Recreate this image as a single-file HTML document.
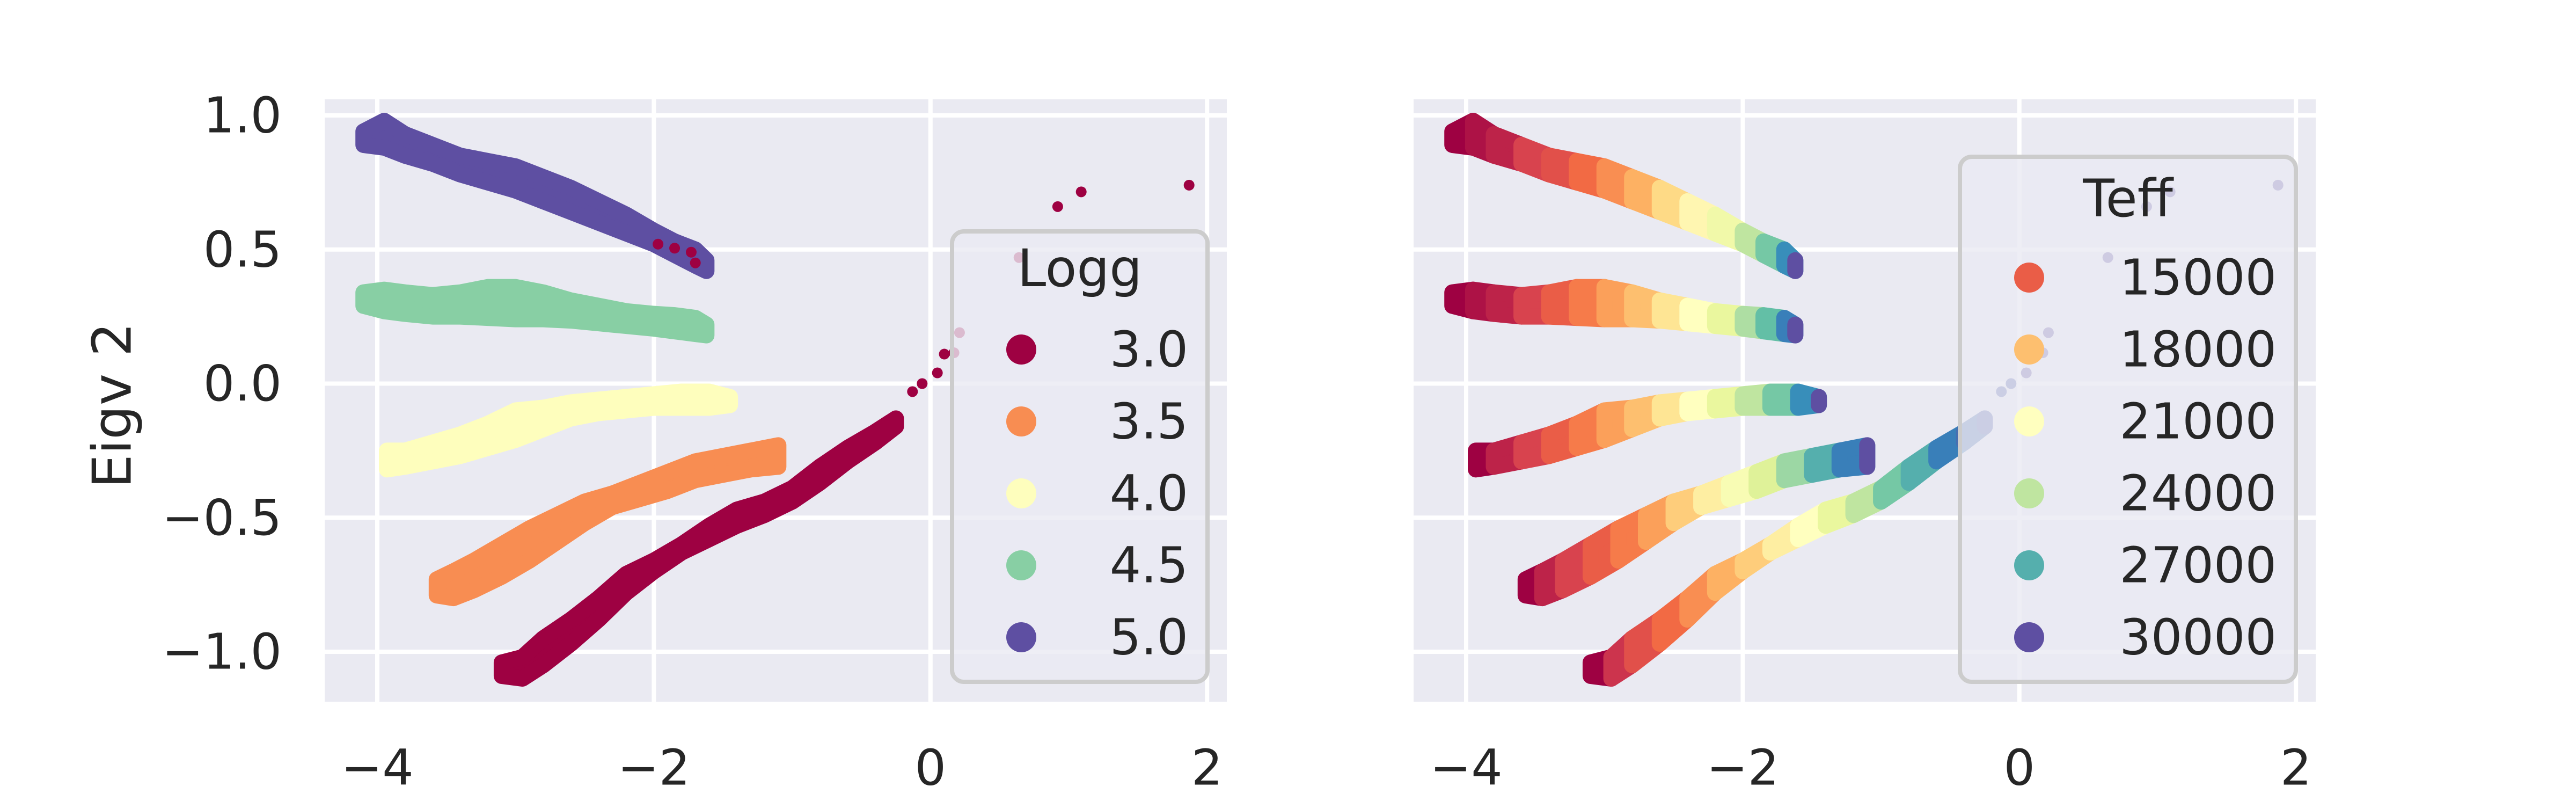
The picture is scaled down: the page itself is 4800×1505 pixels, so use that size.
<!DOCTYPE html>
<html><head><meta charset="utf-8"><style>
html,body{margin:0;padding:0;background:#fff;}
svg text{font-family:"DejaVu Sans","Liberation Sans",sans-serif;fill:#262626;}
</style></head><body>
<svg id="fig" width="4800" height="1500" viewBox="0 0 4800 1500" xmlns="http://www.w3.org/2000/svg">
<g id="axL"></g>
<g id="axR"></g>
<text x="209" y="755" font-size="100" text-anchor="middle" dominant-baseline="central" transform="rotate(-90 209 755)">Eigv 2</text>
</svg>
<script>
// ---- data: columns of points per logg band (x, y-low, y-high, teff) ----
const loggValues = [5.0, 4.5, 4.0, 3.5, 3.0];
const b50x  = [-4.1,-3.95,-3.8,-3.6,-3.4,-3.2,-3.0,-2.8,-2.6,-2.4,-2.2,-2.0,-1.85,-1.7,-1.62];
const b50lo = [0.89,0.88,0.85,0.82,0.78,0.75,0.72,0.68,0.64,0.60,0.56,0.52,0.48,0.44,0.42];
const b50hi = [0.94,0.98,0.93,0.89,0.85,0.83,0.81,0.77,0.73,0.68,0.63,0.57,0.53,0.50,0.46];
const b50t  = [12000,12500,13000,14000,14500,15500,16500,17500,19000,20500,22000,24000,26000,28000,30000];
const b45x  = [-4.1,-3.95,-3.8,-3.6,-3.4,-3.2,-3.0,-2.8,-2.6,-2.4,-2.2,-2.0,-1.85,-1.7,-1.62];
const b45lo = [0.29,0.27,0.26,0.25,0.25,0.245,0.24,0.24,0.235,0.225,0.215,0.205,0.195,0.185,0.18];
const b45hi = [0.34,0.35,0.34,0.33,0.34,0.36,0.36,0.34,0.31,0.29,0.27,0.26,0.255,0.245,0.22];
const b45t  = [12000,12500,13000,14000,15000,16000,17000,18000,19500,21000,22500,24500,26500,28500,30000];
const b40x  = [-3.93,-3.8,-3.6,-3.4,-3.2,-3.0,-2.8,-2.6,-2.4,-2.2,-2.0,-1.8,-1.6,-1.45];
const b40lo = [-0.32,-0.31,-0.29,-0.27,-0.24,-0.21,-0.17,-0.13,-0.11,-0.10,-0.09,-0.09,-0.09,-0.08];
const b40hi = [-0.25,-0.25,-0.22,-0.19,-0.15,-0.10,-0.09,-0.07,-0.06,-0.05,-0.04,-0.03,-0.03,-0.05];
const b40t  = [12000,13000,14000,15000,16000,17000,18000,19500,21000,22500,24000,26000,28000,30000];
const b35x  = [-3.57,-3.45,-3.3,-3.1,-2.9,-2.7,-2.5,-2.3,-2.1,-1.9,-1.7,-1.5,-1.3,-1.1];
const b35lo = [-0.79,-0.80,-0.77,-0.72,-0.66,-0.59,-0.52,-0.46,-0.43,-0.40,-0.36,-0.34,-0.32,-0.31];
const b35hi = [-0.73,-0.70,-0.66,-0.60,-0.54,-0.49,-0.44,-0.41,-0.37,-0.33,-0.29,-0.27,-0.25,-0.23];
const b35t  = [12000,13000,14000,15000,16000,17000,18500,20000,21500,23000,25000,27000,28500,30000];
const b30x  = [-3.1,-2.95,-2.8,-2.6,-2.4,-2.2,-2.0,-1.8,-1.6,-1.4,-1.2,-1.0,-0.8,-0.6,-0.4,-0.25];
const b30lo = [-1.09,-1.10,-1.05,-0.97,-0.88,-0.78,-0.70,-0.63,-0.58,-0.53,-0.49,-0.44,-0.37,-0.29,-0.22,-0.16];
const b30hi = [-1.04,-1.02,-0.95,-0.88,-0.80,-0.71,-0.66,-0.60,-0.53,-0.47,-0.44,-0.39,-0.31,-0.24,-0.18,-0.13];
const b30t  = [12000,13500,14500,15500,16500,17500,18500,20000,21000,22500,24000,26000,27000,28500,29000,29500];
// sparse single points (logg 3.0)
const sparseX = [-0.13,-0.06,0.05,0.10,0.17,0.21,0.64,0.92,1.09,1.87,-1.97,-1.85,-1.73,-1.70];
const sparseY = [-0.03,0.0,0.04,0.11,0.115,0.19,0.47,0.66,0.715,0.74,0.52,0.505,0.49,0.45];
const sparseT = [29500,29500,30000,30000,30000,30000,30000,30000,30000,30000,28000,28500,29000,30000];
const xTicks = [-4,-2,0,2];
const yTicks = [1.0,0.5,0.0,-0.5,-1.0];
const yTickLabels = ["1.0","0.5","0.0","\u22120.5","\u22121.0"];
const xTickLabels = ["\u22124","\u22122","0","2"];
const teffLegend = [15000,18000,21000,24000,27000,30000];
const loggLegend = ["3.0","3.5","4.0","4.5","5.0"];

const bands = [
  {x:b50x,lo:b50lo,hi:b50hi,t:b50t,c:"#5e4fa2",n:"band-logg-5-0"},
  {x:b45x,lo:b45lo,hi:b45hi,t:b45t,c:"#88cfa4",n:"band-logg-4-5"},
  {x:b40x,lo:b40lo,hi:b40hi,t:b40t,c:"#fefebd",n:"band-logg-4-0"},
  {x:b35x,lo:b35lo,hi:b35hi,t:b35t,c:"#f88d52",n:"band-logg-3-5"},
  {x:b30x,lo:b30lo,hi:b30hi,t:b30t,c:"#9e0142",n:"band-logg-3-0"}
];
const loggColors = ["#9e0142","#f88d52","#fefebd","#88cfa4","#5e4fa2"];

const NS="http://www.w3.org/2000/svg";
function mk(tag,attrs,parent){const e=document.createElementNS(NS,tag);for(const k in attrs)e.setAttribute(k,attrs[k]);parent.appendChild(e);return e;}
const spectral=["#9e0142","#d53e4f","#f46d43","#fdae61","#fee08b","#ffffbf","#e6f598","#abdda4","#66c2a5","#3288bd","#5e4fa2"];
function hex(h){return [1,3,5].map(i=>parseInt(h.substr(i,2),16));}
function cmap(t){let v=(t-12000)/18000;v=Math.max(0,Math.min(1,v));const p=v*10,i=Math.min(9,Math.floor(p)),f=p-i;const a=hex(spectral[i]),b=hex(spectral[i+1]);return "rgb("+a.map((c,k)=>Math.round(c+(b[k]-c)*f)).join(",")+")";}

const AX={top:185,bottom:1307,w:1681};
function makePanel(g,left,mode){
  const sx=v=>left+98+(v+4)*257.7;
  const sy=v=>215+(1-v)*499.5;
  const bg=mk("rect",{x:left,y:AX.top,width:AX.w,height:AX.bottom-AX.top,fill:"#eaeaf2"},g);
  
  
  xTicks.forEach((v,i)=>{
    const l=mk("line",{x1:sx(v),x2:sx(v),y1:AX.top,y2:AX.bottom,stroke:"#fff","stroke-width":8},g);
    
    
    const t=mk("text",{x:sx(v),y:1430,"font-size":92,"text-anchor":"middle","dominant-baseline":"central"},g);
    t.textContent=xTickLabels[i];
    
    
  });
  yTicks.forEach((v,i)=>{
    const l=mk("line",{x1:left,x2:left+AX.w,y1:sy(v),y2:sy(v),stroke:"#fff","stroke-width":8},g);
    
    
    if(mode==="logg"){
      const t=mk("text",{x:525,y:sy(v),"font-size":92,"text-anchor":"end","dominant-baseline":"central"},g);
      t.textContent=yTickLabels[i];
      
      
    }
  });
  const R=15;
  function drawSparse(){
    sparseX.forEach((v,i)=>{
      const c=mk("circle",{cx:sx(v),cy:sy(sparseY[i]),r:10,fill:mode==="logg"?"#9e0142":cmap(sparseT[i])},g);
      
      
    });
  }
  if(mode!=="logg")drawSparse();
  bands.forEach(b=>{
    const bg2=mk("g",{},g);
    
    
    if(mode==="logg"){
      const pts=[];
      for(let i=0;i<b.x.length;i++)pts.push(sx(b.x[i])+","+sy(b.hi[i]));
      for(let i=b.x.length-1;i>=0;i--)pts.push(sx(b.x[i])+","+sy(b.lo[i]));
      const p=mk("polygon",{points:pts.join(" "),fill:b.c,stroke:b.c,"stroke-width":2*R,"stroke-linejoin":"round"},bg2);
      
      
    } else {
      for(let i=0;i<b.x.length;i++){
        const c=cmap(b.t[i]);
        if(i<b.x.length-1){
          const pts=[sx(b.x[i])+","+sy(b.hi[i]),sx(b.x[i+1])+","+sy(b.hi[i+1]),sx(b.x[i+1])+","+sy(b.lo[i+1]),sx(b.x[i])+","+sy(b.lo[i])].join(" ");
          const p=mk("polygon",{points:pts,fill:c,stroke:c,"stroke-width":2*R,"stroke-linejoin":"round"},bg2);
          
          
        } else {
          const l=mk("line",{x1:sx(b.x[i]),x2:sx(b.x[i]),y1:sy(b.lo[i]),y2:sy(b.hi[i]),stroke:c,"stroke-width":2*R,"stroke-linecap":"round"},bg2);
          
          
        }
      }
    }
  });
  if(mode==="logg")drawSparse();
}
makePanel(document.getElementById('axL'),605,"logg");
makePanel(document.getElementById('axR'),2634,"teff");

function legend(g,x0,x1,y0,y1,title,titleY,labels,colors,rowY0){
  const lg=mk("g",{},g);
  
  
  mk("rect",{x:x0,y:y0,width:x1-x0,height:y1-y0,rx:22,fill:"#eaeaf2","fill-opacity":0.8,stroke:"#cccccc","stroke-width":8},lg);
  const t=mk("text",{x:(x0+x1)/2,y:titleY,"font-size":96,"text-anchor":"middle","dominant-baseline":"central"},lg);
  t.textContent=title;
  
  
  labels.forEach((lab,i)=>{
    const y=rowY0+i*134;
    const c=mk("circle",{cx:x0+129,cy:y,r:28,fill:colors[i]},lg);
    
    
    const tx=mk("text",{x:x1-36,y:y,"font-size":92,"text-anchor":"end","dominant-baseline":"central"},lg);
    tx.textContent=lab;
    
    
  });
}
legend(document.getElementById('axL'),1774,2250,431,1270,"Logg",500,loggLegend,loggColors,651);
legend(document.getElementById('axR'),3652,4278,292,1270,"Teff",370,teffLegend.map(String),teffLegend.map(cmap),517);
</script>
</body></html>
